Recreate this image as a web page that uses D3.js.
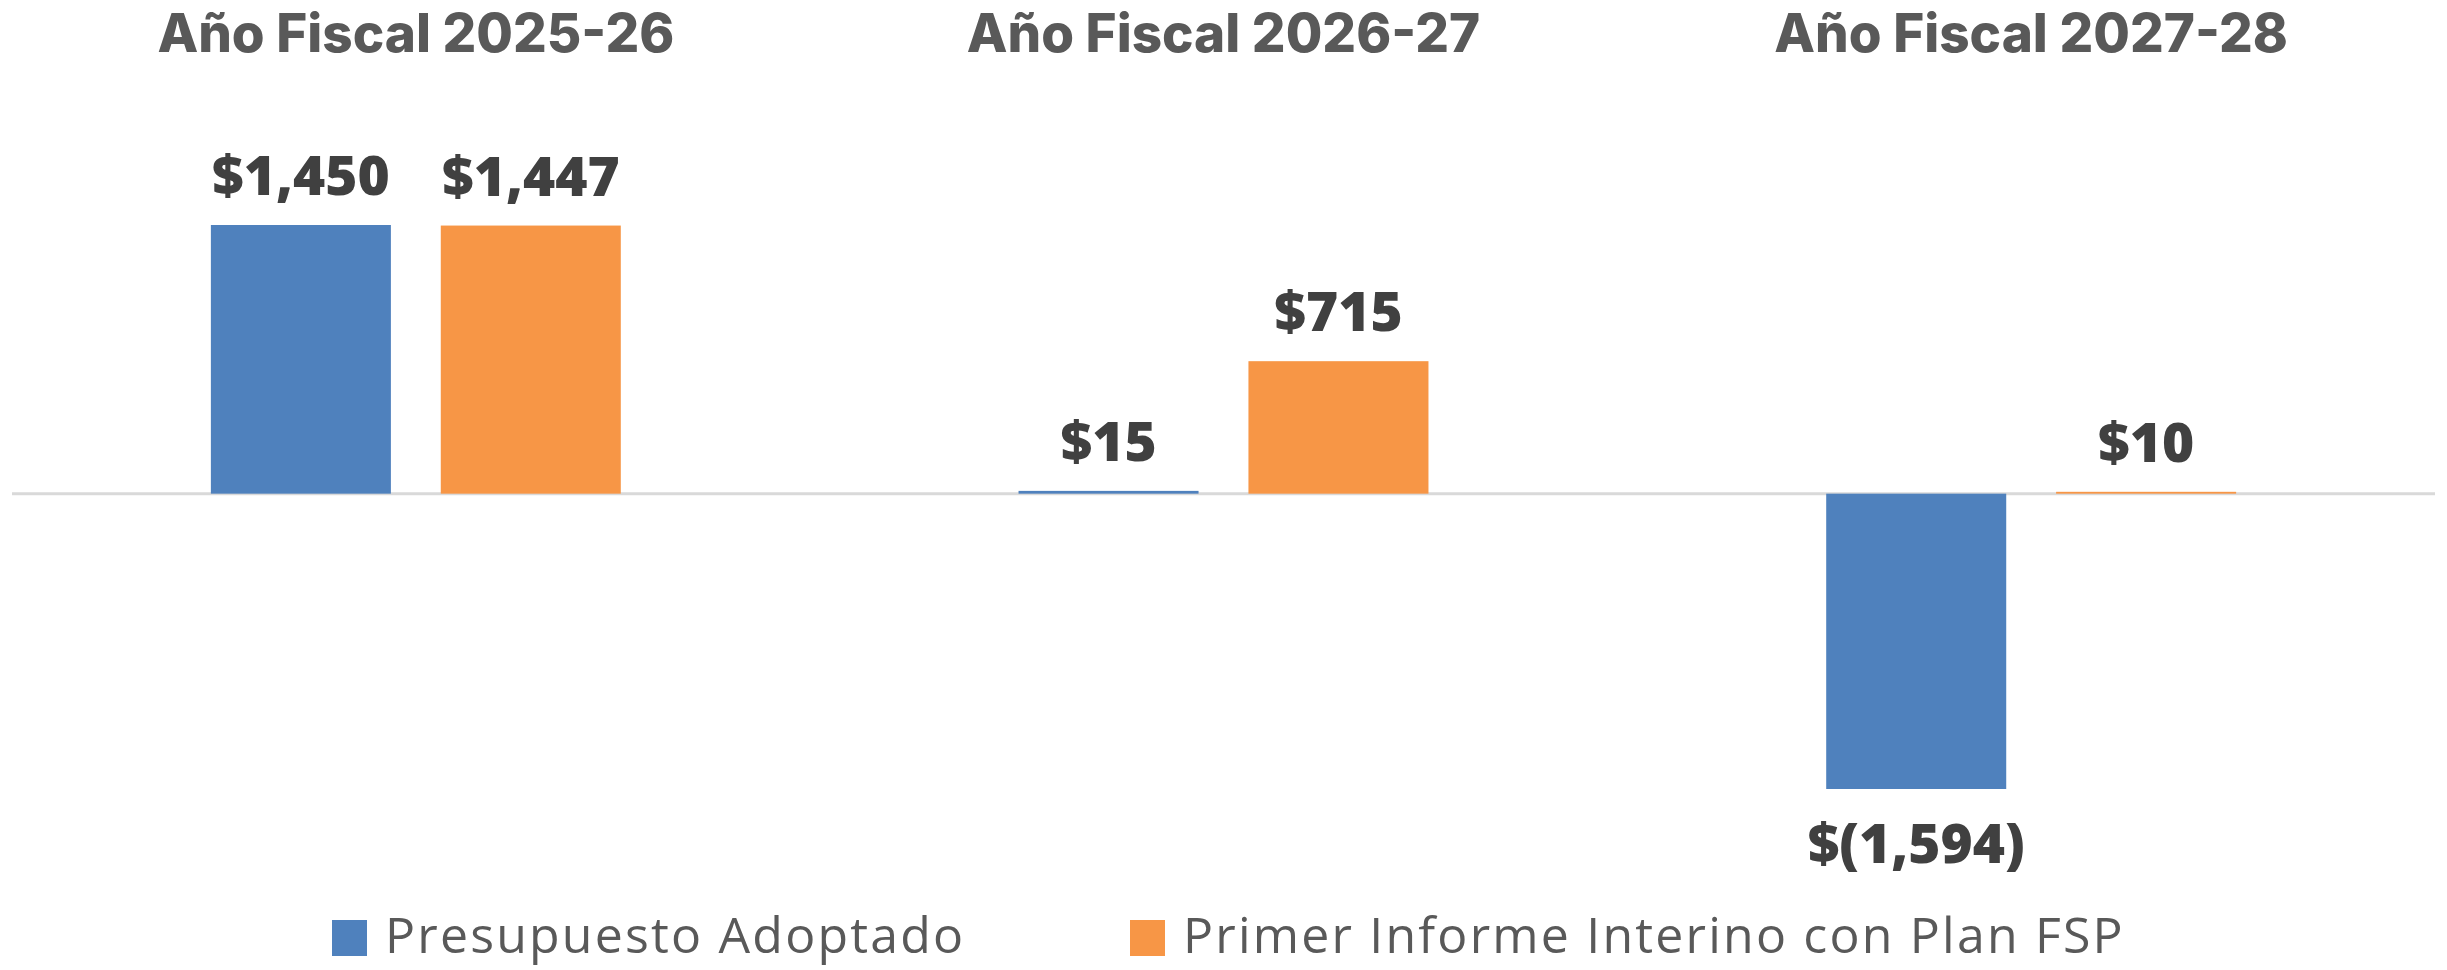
<!DOCTYPE html>
<html>
<head>
<meta charset="utf-8">
<script src="https://cdn.jsdelivr.net/npm/d3@7"></script>
<style>
  html, body { margin: 0; padding: 0; background: #fff; }
  svg { display: block; }
</style>
</head>
<body>
<script>
const categories = ["Año Fiscal 2025-26", "Año Fiscal 2026-27", "Año Fiscal 2027-28"];
const seriesNames = ["Presupuesto Adoptado", "Primer Informe Interino con Plan FSP"];
const presupuestoAdoptado = [1450, 15, -1594];
const primerInforme = [1447, 715, 10];
const seriesColors = ["#4F81BD", "#F79646"];

const W = 2447, H = 970;
const svg = d3.select("body").append("svg").attr("width", W).attr("height", H);

const x0 = d3.scaleBand().domain(categories).range([12, 2435]).paddingInner(0).paddingOuter(0);
const x1 = d3.scaleBand().domain(seriesNames).range([0, x0.bandwidth()]).paddingInner(0.217).paddingOuter(0.865);
const y = d3.scaleLinear().domain([-1594, 1450]).range([789, 225]);

const data = categories.map((c, i) => ({
  cat: c,
  vals: [
    { s: seriesNames[0], v: presupuestoAdoptado[i], color: seriesColors[0] },
    { s: seriesNames[1], v: primerInforme[i], color: seriesColors[1] }
  ]
}));

// zero line
svg.append("line")
  .attr("x1", x0.range()[0]).attr("x2", x0.range()[1])
  .attr("y1", y(0)).attr("y2", y(0))
  .attr("stroke", "#D9D9D9").attr("stroke-width", 3);

// titles
svg.selectAll("text.title").data(categories).enter().append("text")
  .attr("class", "title")
  .attr("x", d => x0(d) + x0.bandwidth() / 2)
  .attr("y", 52)
  .attr("text-anchor", "middle")
  .attr("font-family", "Inter, sans-serif")
  .attr("font-weight", 800)
  .attr("font-size", 53)
  .attr("fill", "#595959")
  .text(d => d);

const fmt = v => v < 0 ? "$(" + d3.format(",")(-v) + ")" : "$" + d3.format(",")(v);

const g = svg.selectAll("g.grp").data(data).enter().append("g")
  .attr("transform", d => `translate(${x0(d.cat)},0)`);

g.selectAll("rect").data(d => d.vals).enter().append("rect")
  .attr("x", d => x1(d.s))
  .attr("width", x1.bandwidth())
  .attr("y", d => Math.min(y(d.v), y(0)))
  .attr("height", d => Math.max(Math.abs(y(d.v) - y(0)), 1.5))
  .attr("fill", d => d.color);

g.selectAll("text.lbl").data(d => d.vals).enter().append("text")
  .attr("class", "lbl")
  .attr("x", d => x1(d.s) + x1.bandwidth() / 2)
  .attr("y", d => d.v >= 0 ? y(d.v) - 30 : y(d.v) + 74)
  .attr("text-anchor", "middle")
  .attr("font-family", "'Open Sans', sans-serif")
  .attr("font-weight", 800)
  .attr("font-size", 55)
  .attr("fill", "#404040")
  .text(d => fmt(d.v));

// legend
const legendItems = [
  { name: seriesNames[0], color: seriesColors[0], x: 332 },
  { name: seriesNames[1], color: seriesColors[1], x: 1130 }
];
const lg = svg.selectAll("g.leg").data(legendItems).enter().append("g")
  .attr("transform", d => `translate(${d.x},0)`);
lg.append("rect").attr("x", 0).attr("y", 920).attr("width", 35).attr("height", 36)
  .attr("fill", d => d.color);
lg.append("text").attr("x", 53).attr("y", 953)
  .attr("font-family", "'Open Sans', sans-serif")
  .attr("font-size", 50)
  .attr("letter-spacing", 2.2)
  .attr("fill", "#595959")
  .text(d => d.name);
</script>
</body>
</html>
